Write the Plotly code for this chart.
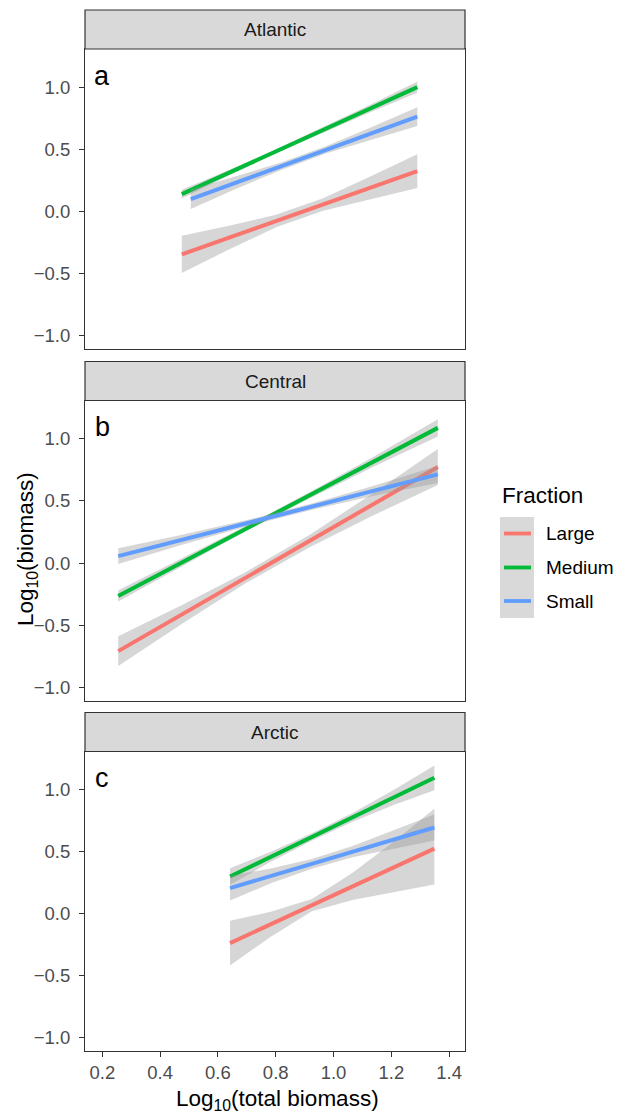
import plotly.graph_objects as go

W, H = 625, 1113

# ---------------- data ----------------
regions = ["Atlantic", "Central", "Arctic"]
panel_letters = ["a", "b", "c"]
fractions = ["Large", "Medium", "Small"]
x_ticks = [0.2, 0.4, 0.6, 0.8, 1.0, 1.2, 1.4]
y_ticks = [-1.0, -0.5, 0.0, 0.5, 1.0]

# Atlantic
atl_x_lm = [0.475, 0.638, 0.801, 0.964, 1.127, 1.29]       # Large & Medium
atl_x_s = [0.506, 0.663, 0.819, 0.976, 1.133, 1.29]        # Small
atl_large_fit = [-0.344, 0.325]
atl_large_lo = [-0.494, -0.305, -0.126, 0.007, 0.101, 0.19]
atl_large_hi = [-0.194, -0.115, -0.026, 0.107, 0.281, 0.46]
atl_medium_fit = [0.14, 1.0]
atl_medium_lo = [0.105, 0.29, 0.468, 0.636, 0.798, 0.955]
atl_medium_hi = [0.175, 0.334, 0.50, 0.676, 0.858, 1.045]
atl_small_fit = [0.10, 0.763]
atl_small_lo = [0.02, 0.183, 0.335, 0.468, 0.58, 0.688]
atl_small_hi = [0.18, 0.283, 0.395, 0.528, 0.68, 0.838]

# Central
cen_x = [0.255, 0.476, 0.697, 0.919, 1.140, 1.361]
cen_large_fit = [-0.708, 0.772]
cen_large_lo = [-0.828, -0.487, -0.161, 0.13, 0.386, 0.627]
cen_large_hi = [-0.588, -0.337, -0.071, 0.23, 0.566, 0.917]
cen_medium_fit = [-0.264, 1.087]
cen_medium_lo = [-0.309, -0.024, 0.257, 0.522, 0.777, 1.017]
cen_medium_hi = [-0.219, 0.036, 0.297, 0.572, 0.857, 1.157]
cen_small_fit = [0.056, 0.713]
cen_small_lo = [-0.007, 0.147, 0.294, 0.425, 0.542, 0.643]
cen_small_hi = [0.119, 0.227, 0.344, 0.475, 0.622, 0.783]

# Arctic
arc_x = [0.642, 0.783, 0.925, 1.066, 1.208, 1.349]
arc_large_fit = [-0.236, 0.525]
arc_large_lo = [-0.416, -0.184, 0.02, 0.111, 0.173, 0.235]
arc_large_hi = [-0.056, 0.016, 0.12, 0.331, 0.58, 0.845]
arc_medium_fit = [0.30, 1.095]
arc_medium_lo = [0.233, 0.419, 0.588, 0.742, 0.876, 0.995]
arc_medium_hi = [0.367, 0.499, 0.648, 0.812, 0.996, 1.195]
arc_small_fit = [0.207, 0.695]
arc_small_lo = [0.107, 0.245, 0.362, 0.455, 0.522, 0.59]
arc_small_hi = [0.307, 0.365, 0.442, 0.545, 0.672, 0.80]

panels = [
    [(atl_x_lm, atl_large_fit, atl_large_lo, atl_large_hi),
     (atl_x_lm, atl_medium_fit, atl_medium_lo, atl_medium_hi),
     (atl_x_s, atl_small_fit, atl_small_lo, atl_small_hi)],
    [(cen_x, cen_large_fit, cen_large_lo, cen_large_hi),
     (cen_x, cen_medium_fit, cen_medium_lo, cen_medium_hi),
     (cen_x, cen_small_fit, cen_small_lo, cen_small_hi)],
    [(arc_x, arc_large_fit, arc_large_lo, arc_large_hi),
     (arc_x, arc_medium_fit, arc_medium_lo, arc_medium_hi),
     (arc_x, arc_small_fit, arc_small_lo, arc_small_hi)],
]

# ---------------- style ----------------
COLORS = {"Large": "#F8766D", "Medium": "#00BA38", "Small": "#619CFF"}
BAND = "rgba(153,153,153,0.4)"
FONT = "Liberation Sans, Arial, sans-serif"
DARK = "#333333"
X_RANGE = [0.14, 1.455]
Y_RANGE = [-1.105, 1.307]

def pxx(p):
    return p / W

def pxy(p):
    return 1 - p / H

PLOT_X = (85, 465)
PANEL_Y = [(49, 349), (400.5, 700.5), (751.5, 1051)]
STRIP_Y = [(10, 49), (361.5, 400.5), (712.5, 751.5)]

fig = go.Figure()

for i, series in enumerate(panels):
    xa = "x" if i == 0 else f"x{i+1}"
    ya = "y" if i == 0 else f"y{i+1}"
    for frac, (bx, fit, lo, hi) in zip(fractions, series):
        fig.add_trace(go.Scatter(
            x=list(bx) + list(bx)[::-1], y=list(hi) + list(lo)[::-1],
            fill="toself", fillcolor=BAND, line=dict(width=0),
            mode="lines", hoverinfo="skip", showlegend=False,
            xaxis=xa, yaxis=ya))
        fig.add_trace(go.Scatter(
            x=[bx[0], bx[-1]], y=fit, mode="lines",
            line=dict(color=COLORS[frac], width=4),
            name=frac, showlegend=False, xaxis=xa, yaxis=ya))

layout = dict(
    width=W, height=H,
    margin=dict(l=0, r=0, t=0, b=0),
    paper_bgcolor="white", plot_bgcolor="white",
    font=dict(family=FONT, size=18, color="#4D4D4D"),
    showlegend=False,
)

for i in range(3):
    sfx = "" if i == 0 else str(i + 1)
    ydom = [pxy(PANEL_Y[i][1]), pxy(PANEL_Y[i][0])]
    xdom = [pxx(PLOT_X[0]), pxx(PLOT_X[1])]
    bottom = (i == 2)
    layout["xaxis" + sfx] = dict(
        domain=xdom, range=X_RANGE, anchor="y" + sfx,
        showline=True, mirror=True, linecolor=DARK, linewidth=1.2,
        showgrid=False, zeroline=False,
        tickvals=x_ticks if bottom else [],
        ticktext=[f"{v:.1f}" for v in x_ticks] if bottom else [],
        ticks="outside" if bottom else "", ticklen=5, tickcolor=DARK, tickwidth=1.2,
        tickfont=dict(size=18.5, color="#4D4D4D"),
        ticklabelstandoff=0,
    )
    layout["yaxis" + sfx] = dict(
        domain=ydom, range=Y_RANGE, anchor="x" + sfx,
        showline=True, mirror=True, linecolor=DARK, linewidth=1.2,
        showgrid=False, zeroline=False,
        tickvals=y_ticks, ticktext=[f"{v:.1f}".replace("-", "\u2212") for v in y_ticks],
        ticks="outside", ticklen=5, tickcolor=DARK, tickwidth=1.2,
        tickfont=dict(size=18.5, color="#4D4D4D"),
        ticklabelstandoff=5,
    )

fig.update_layout(**layout)

shapes = []
annotations = []

# strips
for i, name in enumerate(regions):
    y0, y1 = STRIP_Y[i]
    shapes.append(dict(type="rect", xref="paper", yref="paper",
                       x0=pxx(PLOT_X[0]), x1=pxx(PLOT_X[1]), y0=pxy(y1), y1=pxy(y0),
                       fillcolor="#D9D9D9", line=dict(color=DARK, width=1.2), layer="above"))
    annotations.append(dict(xref="paper", yref="paper",
                            x=pxx((PLOT_X[0] + PLOT_X[1]) / 2), y=pxy((y0 + y1) / 2),
                            text=name, showarrow=False, xanchor="center", yanchor="middle",
                            font=dict(family=FONT, size=19, color="#1A1A1A")))
    sfx = "" if i == 0 else str(i + 1)
    annotations.append(dict(xref="x" + sfx, yref="y" + sfx, x=0.2, y=1.09,
                            text=panel_letters[i], showarrow=False,
                            xanchor="center", yanchor="middle",
                            font=dict(family=FONT, size=27, color="black")))

# axis titles
annotations.append(dict(xref="paper", yref="paper", x=pxx(277), y=pxy(1100),
                        text="Log<sub>10</sub>(total biomass)", showarrow=False,
                        xanchor="center", yanchor="middle",
                        font=dict(family=FONT, size=22.5, color="black")))
annotations.append(dict(xref="paper", yref="paper", x=pxx(27), y=pxy(549),
                        text="Log<sub>10</sub>(biomass)", showarrow=False, textangle=-90,
                        xanchor="center", yanchor="middle",
                        font=dict(family=FONT, size=22.5, color="black")))

# legend (drawn manually, like ggplot's)
annotations.append(dict(xref="paper", yref="paper", x=pxx(500), y=pxy(495),
                        text="Fraction", showarrow=False, xanchor="left", yanchor="middle",
                        font=dict(family=FONT, size=22.5, color="black")))
shapes.append(dict(type="rect", xref="paper", yref="paper",
                   x0=pxx(500), x1=pxx(534), y0=pxy(618), y1=pxy(517),
                   fillcolor="#D9D9D9", line=dict(width=0)))
for k, frac in enumerate(fractions):
    yy = [533.5, 567.5, 601][k]
    shapes.append(dict(type="line", xref="paper", yref="paper",
                       x0=pxx(504), x1=pxx(531), y0=pxy(yy), y1=pxy(yy),
                       line=dict(color=COLORS[frac], width=3.8)))
    annotations.append(dict(xref="paper", yref="paper", x=pxx(544), y=pxy(yy),
                            text=frac, showarrow=False, xanchor="left", yanchor="middle",
                            font=dict(family=FONT, size=19, color="black")))

fig.update_layout(shapes=shapes, annotations=annotations)
fig.write_html("out.html", config={"displayModeBar": False},
               post_script="document.body.style.margin='0';document.body.style.padding='0';document.body.style.overflow='hidden';")
